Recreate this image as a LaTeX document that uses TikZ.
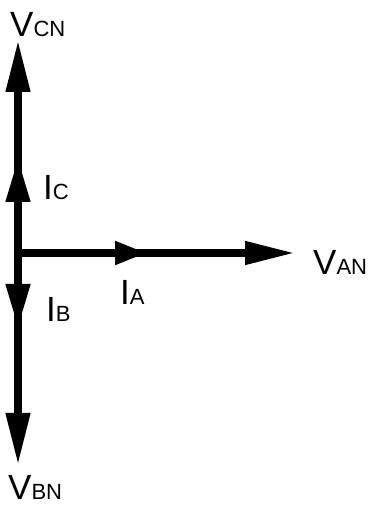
\documentclass[tikz,border=0pt]{standalone}
\usepackage{fontspec}
\setmainfont{Liberation Sans}
\usetikzlibrary{arrows.meta}

\newcommand{\phasor}[2]{{\fontsize{35}{35}\selectfont #1}{\fontsize{22}{22}\selectfont #2}}

\begin{document}
\begin{tikzpicture}[
  x=1pt, y=1pt,
  vec/.style={line width=7.5pt, draw=black},
  longtip/.style={-{Triangle[length=52pt, width=23pt]}},
  midtip/.style={-{Triangle[length=44pt, width=23pt]}},
  shorttip/.style={-{Triangle[length=32pt, width=22pt]}},
  vanttip/.style={-{Triangle[length=50pt, width=22pt]}},
  lbl/.style={anchor=base west, inner sep=0pt},
]

\useasboundingbox (0,0) rectangle (371,506);

% === Origin and tips ===
\coordinate (o) at (18,253);
\coordinate (vcn) at (18,466);
\coordinate (ic) at (18,348);
\coordinate (ib) at (18,178);
\coordinate (vbn) at (18,41);
\coordinate (ia) at (147,253);
\coordinate (van) at (295,253);

% === Voltages ===
\draw[vec, longtip] (o) -- (vcn);
\draw[vec, longtip] (o) -- (vbn);
\draw[vec, vanttip] (o) -- (van);

% === Currents ===
\draw[vec, midtip] (o) -- (ic);
\draw[vec, midtip] (o) -- (ib);
\draw[vec, shorttip] (o) -- (ia);

% === Labels ===
\node[lbl] (lvcn) at (10,469) {\phasor{V}{CN}};
\node[lbl] (lic) at (43,306) {\phasor{I}{C}};
\node[lbl] (lib) at (46,184) {\phasor{I}{B}};
\node[lbl] (lia) at (120,201) {\phasor{I}{A}};
\node[lbl] (lvan) at (313,231) {\phasor{V}{AN}};
\node[lbl] (lvbn) at (8,6) {\phasor{V}{BN}};

\end{tikzpicture}
\end{document}
